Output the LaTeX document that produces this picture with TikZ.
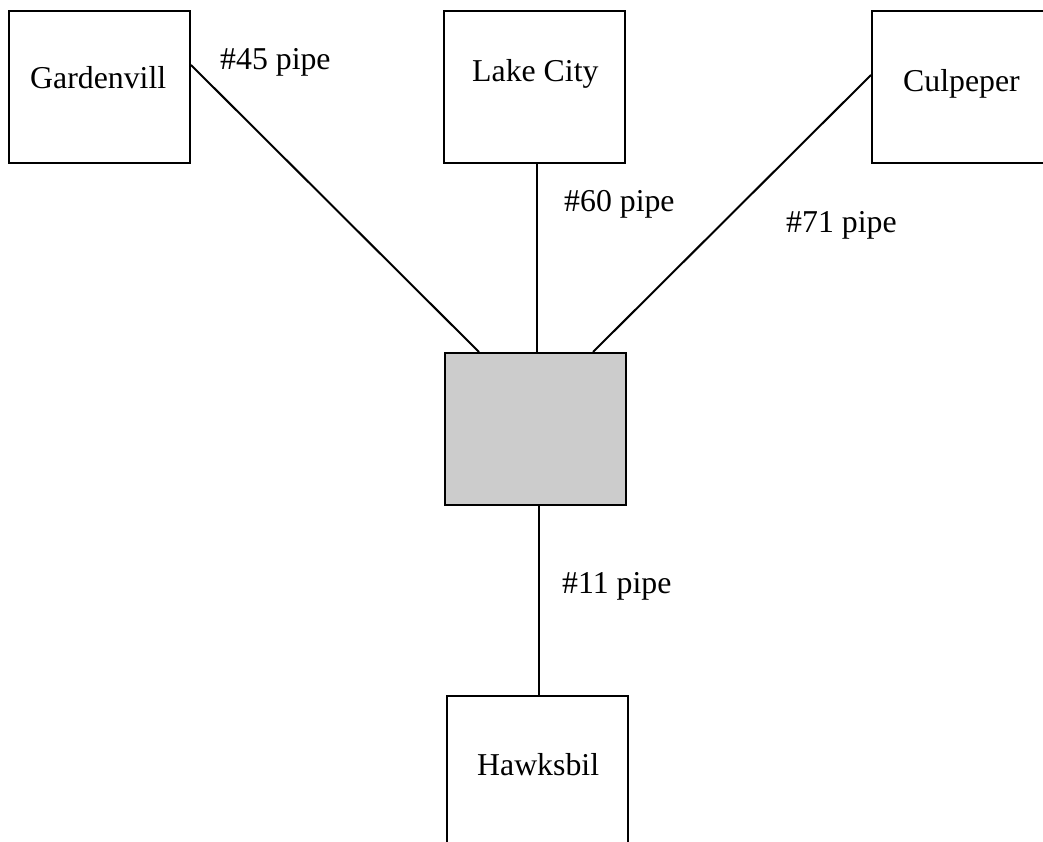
\documentclass[tikz,border=0pt]{standalone}
\usepackage{fontspec}
\setmainfont{Liberation Serif}
\begin{document}
\begin{tikzpicture}[x=1pt,y=-1pt,
  box/.style={draw=black, line width=2pt, inner sep=0pt, minimum width=181pt, minimum height=152pt},
  lbl/.style={inner sep=0pt, anchor=base west, font=\fontsize{31.8}{38}\selectfont},
  pipe/.style={draw=black, line width=2pt}]
\useasboundingbox (0,0) rectangle (1043,842);
\clip (0,0) rectangle (1043,842);
\node[box] (g) at (99.5,87) {};
\node[box] (l) at (534.5,87) {};
\node[box, minimum width=220pt] (cu) at (982,87) {};
\node[box, fill={rgb,255:red,204;green,204;blue,204}] (c) at (535.5,429) {};
\node[box, minimum height=180pt] (h) at (537,786) {};
\node[lbl] (gt) at (30,89) {Gardenvill};
\node[lbl] (lt) at (472,82) {Lake City};
\node[lbl] (cut) at (903,92) {Culpeper};
\node[lbl] (ht) at (477,775) {Hawksbil};
\node[lbl] (p45) at (220,70) {\#45 pipe};
\node[lbl] (p60) at (564,212) {\#60 pipe};
\node[lbl] (p71) at (786,233) {\#71 pipe};
\node[lbl] (p11) at (562,593) {\#11 pipe};
\draw[pipe] ([yshift=22pt]g.east) -- ([xshift=-56.5pt]c.north);
\draw[pipe] ([xshift=2.5pt]l.south) -- ([xshift=1.5pt]c.north);
\draw[pipe] ([yshift=12pt]cu.west) -- ([xshift=57.5pt]c.north);
\draw[pipe] ([xshift=3.5pt]c.south) -- ([xshift=2pt]h.north);
\end{tikzpicture}
\end{document}
